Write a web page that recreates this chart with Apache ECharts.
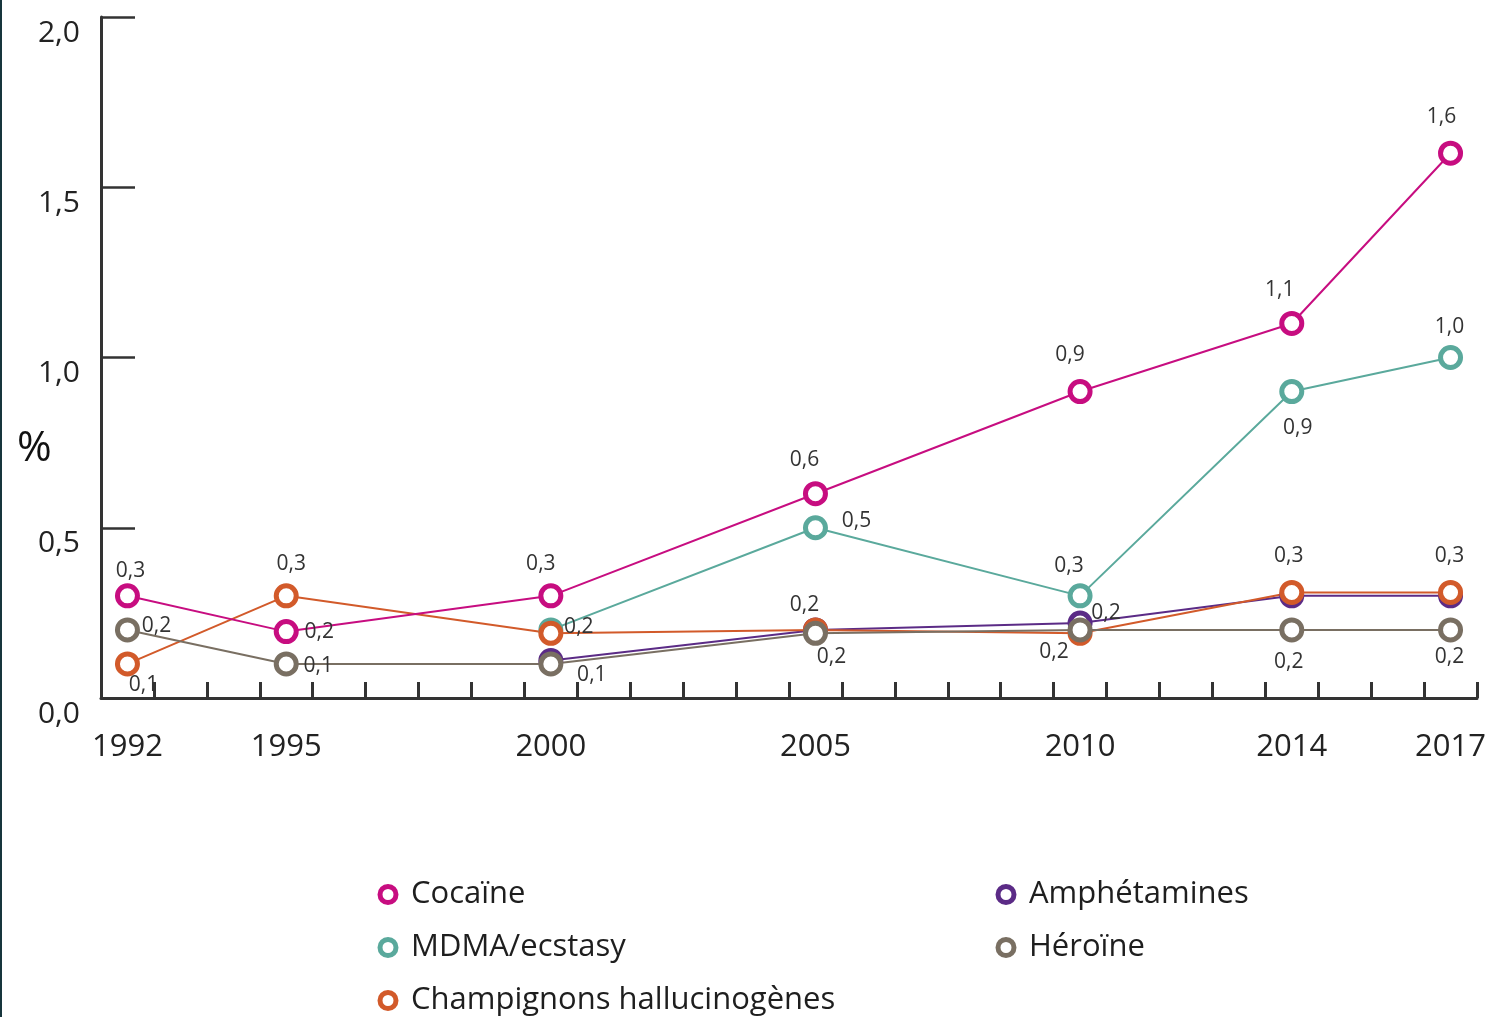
<!DOCTYPE html>
<html>
<head>
<meta charset="utf-8">
<script src="https://cdn.jsdelivr.net/npm/echarts@6/dist/echarts.min.js"></script>
<style>
  html, body { margin: 0; padding: 0; background: #fff; }
  #chart { position: absolute; left: 0; top: 0; width: 1493px; height: 1017px; }
  .edge { position: absolute; left: 0; top: 0; width: 2px; height: 1017px; background: #17353c; z-index: 2; }
</style>
</head>
<body>
<div id="chart"></div>
<div class="edge"></div>
<script>
// années et valeurs (%)
const years = [1992, 1995, 2000, 2005, 2010, 2014, 2017]
const yearLabels = [1992, 1995, 2000, 2005, 2010, 2014, 2017]
const cocaine = [0.3, 0.195, 0.3, 0.6, 0.9, 1.1, 1.6]
const mdma = [null, null, 0.2, 0.5, 0.3, 0.9, 1.0]
const champignons = [0.1, 0.3, 0.19, 0.2, 0.19, 0.31, 0.31]
const amphetamines = [null, null, 0.11, 0.2, 0.22, 0.3, 0.3]
const heroine = [0.2, 0.1, 0.1, 0.19, 0.2, 0.2, 0.2]
const yTicks = [0, 0.5, 1.0, 1.5, 2.0]

// décalage des étiquettes par rapport au centre du point (null = pas d'étiquette)
const lblCocaine = [[3, -25], [33, 0], [-10, -32], [-11, -34], [-10, -37], [-12, -33], [-9, -36]]
const lblMdma = [null, null, [28, -3], [41, -7], [-11, -30], [6, 36], [-1, -30]]
const lblChamp = [[16, 21], [5, -32], null, [-11, -25], [-26, 19], [-3, -36], [-1, -36]]
const lblAmph = [null, null, [41, 14], null, [26, -10], null, null]
const lblHero = [[29, -4], [32, 2], null, [16, 24], null, [-3, 32], [-1, 27]]

const fmt = v => v.toFixed(1).replace('.', ',')

function buildData (values, offsets) {
  let out = []
  values.forEach((v, i) => {
    if (v === null) return
    let off = offsets[i]
    out.push({
      value: [years[i], v],
      label: off ? { show: true, offset: off } : { show: false }
    })
  })
  return out
}

function makeSeries (name, color, values, offsets) {
  return {
    name: name,
    type: 'line',
    data: buildData(values, offsets),
    symbol: 'circle',
    symbolSize: 20,
    lineStyle: { color: color, width: 2 },
    itemStyle: { color: '#fff', borderColor: color, borderWidth: 5 },
    label: {
      position: 'inside',
      align: 'center',
      verticalAlign: 'middle',
      fontFamily: 'Open Sans',
      fontSize: 21,
      color: '#333',
      formatter: p => fmt(p.value[1])
    },
    emphasis: { disabled: true },
    animation: false
  }
}

let tickYears = []
for (let y = 1991.5; y <= 2017.5; y += 1) tickYears.push(y)

let chart = echarts.init(document.getElementById('chart'))
let legendCommon = {
  orient: 'vertical',
  padding: 0,
  itemWidth: 20,
  itemHeight: 20,
  itemGap: 22,
  selectedMode: false,
  textStyle: { fontFamily: 'Open Sans', fontSize: 31, color: '#1e1e1e', padding: [0, 0, 0, 8] },
  itemStyle: { borderWidth: 5 }
}
let option = {
  backgroundColor: '#fff',
  grid: { left: 101, top: 17, right: 16, bottom: 319 },
  legend: [
    Object.assign({ left: 377, top: 879, data: ['Cocaïne', 'MDMA/ecstasy'] }, legendCommon),
    Object.assign({ left: 377, top: 985, data: ['Champignons hallucinogènes'] }, legendCommon),
    Object.assign({ left: 995, top: 879, data: ['Amphétamines', 'Héroïne'] }, legendCommon)
  ],
  graphic: [{
    type: 'text',
    left: 17,
    top: 428,
    style: { text: '%', fontFamily: 'Open Sans', fontSize: 42, fill: '#111' }
  }],
  xAxis: {
    type: 'value',
    min: 1991.5,
    max: 2017.5,
    interval: 1,
    splitLine: { show: false },
    axisLine: { lineStyle: { color: '#333', width: 3 } },
    axisTick: {
      inside: true,
      length: 16,
      customValues: tickYears,
      lineStyle: { color: '#333', width: 3 }
    },
    axisLabel: {
      customValues: yearLabels,
      margin: 34,
      fontFamily: 'Open Sans',
      fontSize: 31,
      color: '#222',
      formatter: v => String(v)
    }
  },
  yAxis: {
    type: 'value',
    min: 0,
    max: 2,
    interval: 0.5,
    splitLine: { show: false },
    axisLine: { show: true, lineStyle: { color: '#333', width: 3 } },
    axisTick: {
      inside: true,
      length: 34,
      customValues: yTicks.slice(1),
      lineStyle: { color: '#333', width: 2.5 }
    },
    axisLabel: {
      margin: 21,
      verticalAlign: 'top',
      padding: [1, 0, 0, 0],
      fontFamily: 'Open Sans',
      fontSize: 30,
      color: '#222',
      formatter: v => fmt(v)
    }
  },
  series: [
    makeSeries('MDMA/ecstasy', '#5aa99c', mdma, lblMdma),
    makeSeries('Amphétamines', '#5b2b86', amphetamines, lblAmph),
    makeSeries('Champignons hallucinogènes', '#d25a2a', champignons, lblChamp),
    makeSeries('Héroïne', '#796f62', heroine, lblHero),
    makeSeries('Cocaïne', '#c70d80', cocaine, lblCocaine)
  ]
}
chart.setOption(option)
</script>
</body>
</html>
